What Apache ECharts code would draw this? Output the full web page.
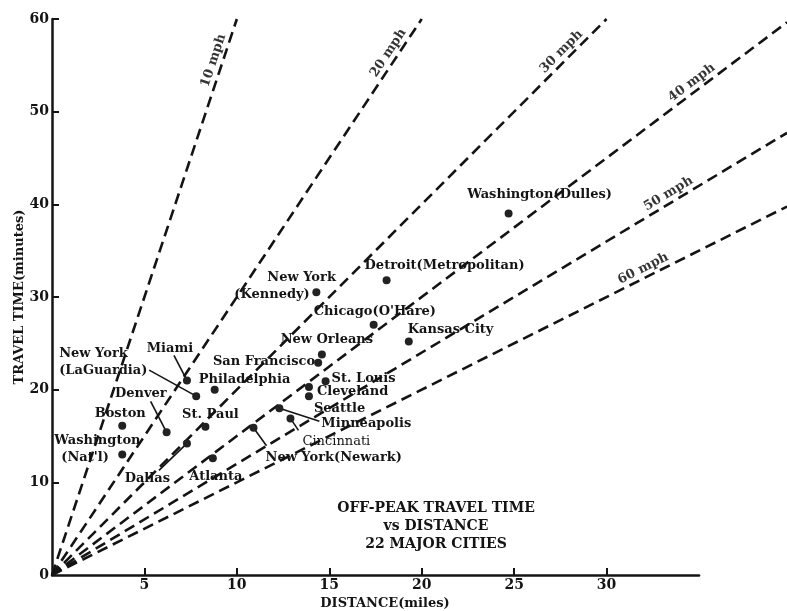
<!DOCTYPE html>
<html>
<head>
<meta charset="utf-8">
<script src="https://cdn.jsdelivr.net/npm/echarts@6/dist/echarts.min.js"></script>
<style>
  html, body { margin: 0; padding: 0; background: #fff; }
  #chart { width: 787px; height: 611px; }
</style>
</head>
<body>
<div id="chart"></div>
<script>
// Off-peak airport travel time vs distance, 22 major cities
const cities = [
  'Washington(Dulles)', 'Detroit(Metropolitan)', 'New York(Kennedy)', "Chicago(O'Hare)",
  'Kansas City', 'New Orleans', 'San Francisco', 'St. Louis', 'Cleveland', 'Seattle',
  'Minneapolis', 'Cincinnati', 'New York(Newark)', 'Atlanta', 'Dallas', 'St. Paul',
  'Philadelphia', 'Miami', 'New York(LaGuardia)', 'Denver', 'Boston', "Washington(Nat'l)"
];
const distanceMiles = [
  24.7, 18.1, 14.3, 17.4,
  19.3, 14.6, 14.4, 14.8, 13.9, 13.9,
  12.3, 12.9, 10.9, 8.7, 7.3, 8.3,
  8.8, 7.3, 7.8, 6.2, 3.8, 3.8
];
const travelMinutes = [
  39.0, 31.8, 30.5, 27.0,
  25.2, 23.8, 22.9, 20.9, 20.3, 19.3,
  18.0, 16.9, 15.9, 12.6, 14.2, 16.0,
  20.0, 21.0, 19.3, 15.4, 16.1, 13.0
];

// constant-speed reference lines
const speedsMph = [10, 20, 30, 40, 50, 60];
const speedLabelMiles = [9.2, 18.6, 27.9, 34.9, 33.6, 32.2];

const xTickValues = [5, 10, 15, 20, 25, 30];
const yTickValues = [0, 10, 20, 30, 40, 50, 60];
const X_MAX = 35, Y_MAX = 60;

const FONT = 'DejaVu Serif';
const INK = '#141414';
const GRID = { left: 52, right: 88, top: 19, bottom: 36 };
const DOT = 8;

// label placement: pixel offset of the text anchor from the dot
const labelPlacement = {
  'Washington(Dulles)':    { dx: 31,   dy: -19, align: 'center' },
  'Detroit(Metropolitan)': { dx: -22,  dy: -15, align: 'left' },
  'New York(Kennedy)':     { dx: -82,  dy: -6,  align: 'left', text: '{i|New York}\n(Kennedy)' },
  "Chicago(O'Hare)":       { dx: -60,  dy: -13, align: 'left' },
  'Kansas City':           { dx: -1,   dy: -12, align: 'left' },
  'New Orleans':           { dx: 5,    dy: -15, align: 'center' },
  'San Francisco':         { dx: -3,   dy: -1,  align: 'right' },
  'St. Louis':             { dx: 6,    dy: -3,  align: 'left' },
  'Cleveland':             { dx: 8,    dy: 5,   align: 'left' },
  'Seattle':               { dx: 5,    dy: 12,  align: 'left' },
  'Minneapolis':           { dx: 42,   dy: 15,  align: 'left' },
  'Cincinnati':            { dx: 12,   dy: 23,  align: 'left', weight: 'normal' },
  'New York(Newark)':      { dx: 12,   dy: 30,  align: 'left' },
  'Atlanta':               { dx: 3,    dy: 18,  align: 'center' },
  'Dallas':                { dx: -17,  dy: 35,  align: 'right' },
  'St. Paul':              { dx: 5,    dy: -12, align: 'center' },
  'Philadelphia':          { dx: -16,  dy: -10, align: 'left' },
  'Miami':                 { dx: -17,  dy: -32, align: 'center' },
  'New York(LaGuardia)':   { dx: -137, dy: -34, align: 'left', text: 'New York\n(LaGuardia)' },
  'Denver':                { dx: 0,    dy: -39, align: 'right' },
  'Boston':                { dx: -2,   dy: -12, align: 'center' },
  "Washington(Nat'l)":     { dx: -68,  dy: -5,  align: 'left', text: "Washington\n{j|(Nat'l)}" }
};

// leader lines from a dot to its label (pixel offsets from the dot)
const leaders = {
  'New York(LaGuardia)': [-47, -26],
  'Miami': [-13, -25],
  'Denver': [-16, -31],
  'Dallas': [-28, 27],
  'Minneapolis': [40, 13],
  'Cincinnati': [8, 12],
  'New York(Newark)': [13, 18]
};

const chart = echarts.init(document.getElementById('chart'), null, { renderer: 'canvas' });
const W = chart.getWidth(), H = chart.getHeight();
const plotW = W - GRID.left - GRID.right;
const plotH = H - GRID.top - GRID.bottom;
const pxPerMile = plotW / X_MAX;
const pxPerMin = plotH / Y_MAX;
// the speed lines run on past the end of the distance axis, up to the page edge
const X_MAX_WIDE = (W - GRID.left) / pxPerMile;

const baseText = { fontFamily: FONT, fontWeight: 'bold', fontSize: 13, color: INK };

const cityData = cities.map((name, i) => {
  const p = labelPlacement[name];
  return {
    name,
    value: [distanceMiles[i], travelMinutes[i]],
    label: {
      show: true,
      // position is measured from the symbol's top-left corner
      position: [DOT / 2 + p.dx, DOT / 2 + p.dy],
      align: p.align,
      verticalAlign: 'middle',
      formatter: p.text || name,
      fontFamily: FONT,
      fontSize: 13,
      color: INK,
      fontWeight: p.weight || 'bold',
      lineHeight: 17,
      rich: {
        i: Object.assign({}, baseText, { padding: [0, 0, 0, 33], lineHeight: 17 }),
        j: Object.assign({}, baseText, { padding: [0, 0, 0, 7], lineHeight: 17 })
      }
    }
  };
});

const speedSeries = speedsMph.map(mph => {
  const end = Math.min(mph * Y_MAX / 60, X_MAX_WIDE);
  return {
    type: 'line',
    xAxisIndex: 1, yAxisIndex: 1,
    data: [[0, 0], [end, end * 60 / mph]],
    symbol: 'none',
    silent: true,
    z: 2,
    lineStyle: { color: INK, width: 2.6, type: [11, 6], cap: 'butt' }
  };
});

const speedLabelData = speedsMph.map((mph, i) => {
  const d = speedLabelMiles[i];
  const theta = Math.atan((60 / mph) * pxPerMin / pxPerMile);
  const gap = 9;
  return {
    value: [d, d * 60 / mph],
    label: {
      show: true,
      formatter: mph + ' mph',
      position: [-Math.sin(theta) * gap, -Math.cos(theta) * gap],
      rotate: theta * 180 / Math.PI,
      align: 'center',
      verticalAlign: 'middle',
      fontFamily: FONT, fontWeight: 'bold', fontSize: 13, color: '#000'
    }
  };
});

const axisBase = {
  axisLine: { show: true, lineStyle: { color: INK, width: 2.5 } },
  splitLine: { show: false }
};

const gridBase = { top: GRID.top, bottom: GRID.bottom, left: GRID.left, containLabel: false, outerBoundsMode: 'none' };

chart.setOption({
  backgroundColor: '#ffffff',
  animation: false,
  textStyle: { fontFamily: FONT, color: INK },
  title: {
    text: 'OFF-PEAK TRAVEL TIME\nvs DISTANCE\n22 MAJOR CITIES',
    left: 431, top: 494,
    textAlign: 'center',
    textStyle: { fontFamily: FONT, fontWeight: 'bold', fontSize: 14, lineHeight: 18, color: INK }
  },
  grid: [
    Object.assign({}, gridBase, { right: GRID.right }),
    Object.assign({}, gridBase, { right: 0 })
  ],
  xAxis: [
    Object.assign({}, axisBase, {
      type: 'value', gridIndex: 0, min: 0, max: X_MAX, interval: 5,
      axisTick: { show: true, inside: true, length: 7, customValues: xTickValues, lineStyle: { color: INK, width: 2 } },
      axisLabel: { show: true, customValues: xTickValues, margin: 3, fontFamily: FONT, fontWeight: 'bold', fontSize: 14, color: INK },
      name: 'DISTANCE(miles)', nameLocation: 'middle', nameGap: 22, nameMoveOverlap: false,
      nameTextStyle: { fontFamily: FONT, fontWeight: 'bold', fontSize: 13, color: INK, padding: [0, 0, 0, 19] }
    }),
    { type: 'value', gridIndex: 1, min: 0, max: X_MAX_WIDE, show: false }
  ],
  yAxis: [
    Object.assign({}, axisBase, {
      type: 'value', gridIndex: 0, min: 0, max: Y_MAX, interval: 10,
      axisTick: { show: true, inside: true, length: 7, customValues: [10, 20, 30, 40, 50, 60], lineStyle: { color: INK, width: 2 } },
      axisLabel: { show: true, customValues: yTickValues, margin: 3, fontFamily: FONT, fontWeight: 'bold', fontSize: 14, color: INK },
      name: 'TRAVEL TIME(minutes)', nameLocation: 'middle', nameGap: 26, nameRotate: 90, nameMoveOverlap: false,
      nameTextStyle: { fontFamily: FONT, fontWeight: 'bold', fontSize: 13, color: INK }
    }),
    { type: 'value', gridIndex: 1, min: 0, max: Y_MAX, show: false }
  ],
  series: speedSeries.concat([
    {
      type: 'scatter',
      xAxisIndex: 1, yAxisIndex: 1,
      data: speedLabelData,
      symbolSize: 0,
      silent: true,
      z: 3
    },
    {
      type: 'scatter',
      id: 'cities',
      xAxisIndex: 0, yAxisIndex: 0,
      data: cityData,
      symbol: 'circle',
      symbolSize: DOT,
      itemStyle: { color: '#222', opacity: 1 },
      labelLayout: { hideOverlap: false },
      z: 5
    }
  ])
});

// leader lines, anchored to the dots' screen positions
const leaderGraphics = Object.keys(leaders).map(name => {
  const i = cities.indexOf(name);
  const p = chart.convertToPixel({ seriesId: 'cities' }, [distanceMiles[i], travelMinutes[i]]);
  const o = leaders[name];
  return {
    type: 'line',
    shape: { x1: p[0], y1: p[1], x2: p[0] + o[0], y2: p[1] + o[1] },
    style: { stroke: INK, lineWidth: 1.6 },
    z: 4,
    silent: true
  };
});
chart.setOption({ graphic: leaderGraphics });
</script>
</body>
</html>
